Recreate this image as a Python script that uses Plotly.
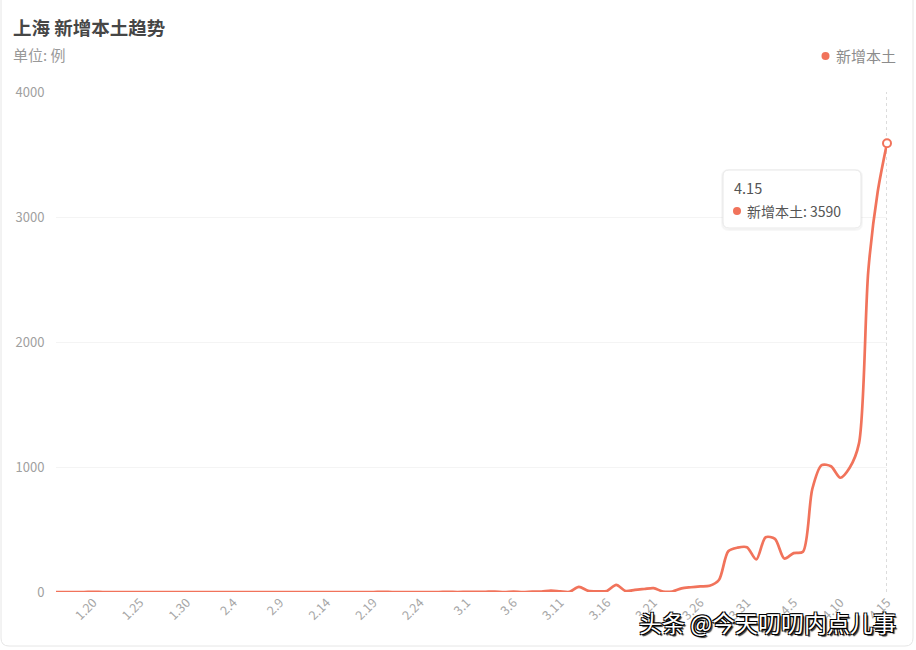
import plotly.graph_objects as go

# ---------------- data ----------------
dates_jan = ["1.16", "1.17", "1.18", "1.19", "1.20", "1.21", "1.22", "1.23", "1.24", "1.25",
             "1.26", "1.27", "1.28", "1.29", "1.30", "1.31"]
dates_feb = ["2.1", "2.2", "2.3", "2.4", "2.5", "2.6", "2.7", "2.8", "2.9", "2.10",
             "2.11", "2.12", "2.13", "2.14", "2.15", "2.16", "2.17", "2.18", "2.19", "2.20",
             "2.21", "2.22", "2.23", "2.24", "2.25", "2.26", "2.27", "2.28"]
dates_mar = ["3.1", "3.2", "3.3", "3.4", "3.5", "3.6", "3.7", "3.8", "3.9", "3.10",
             "3.11", "3.12", "3.13", "3.14", "3.15", "3.16", "3.17", "3.18", "3.19", "3.20",
             "3.21", "3.22", "3.23", "3.24", "3.25", "3.26", "3.27", "3.28", "3.29", "3.30", "3.31"]
dates_apr = ["4.1", "4.2", "4.3", "4.4", "4.5", "4.6", "4.7", "4.8", "4.9", "4.10",
             "4.11", "4.12", "4.13", "4.14", "4.15"]

vals_jan = [0, 0, 0, 0, 1, 0, 0, 0, 0, 0, 0, 0, 0, 0, 0, 0]
vals_feb = [0, 0, 0, 0, 0, 0, 0, 0, 0, 0, 0, 0, 0, 0, 0, 0, 0, 0, 0, 1,
            0, 0, 0, 0, 0, 0, 1, 0]
vals_mar = [1, 1, 2, 3, 0, 3, 0, 3, 4, 11, 5, 1, 41, 9, 5, 8, 57, 8, 17, 24,
            31, 4, 4, 29, 38, 45, 50, 96, 326, 355, 358]
vals_apr = [260, 438, 425, 268, 311, 322, 824, 1015, 1006, 914, 994, 1189, 2573, 3200, 3590]

categories = dates_jan + dates_feb + dates_mar + dates_apr
values = vals_jan + vals_feb + vals_mar + vals_apr

tick_labels = ["1.20", "1.25", "1.30", "2.4", "2.9", "2.14", "2.19", "2.24", "3.1", "3.6",
               "3.11", "3.16", "3.21", "3.26", "3.31", "4.5", "4.10", "4.15"]
y_ticks = [0, 1000, 2000, 3000, 4000]

series_name = "新增本土"
line_color = "#F1735B"
font_cjk = "Noto Sans CJK SC, Microsoft YaHei, sans-serif"

# category positions (index on the category axis)
x_pos = list(range(len(categories)))
tick_pos = [categories.index(t) for t in tick_labels]

# ---------------- layout geometry (pixels) ----------------
W, H = 916, 650
L, R, T, B = 56, 887, 92, 592


def px(x):
    return (x - L) / (R - L)


def py(y):
    return (B - y) / (B - T)


fig = go.Figure()
fig.add_trace(go.Scatter(
    x=x_pos, y=values, mode="lines", name=series_name,
    customdata=categories,
    line=dict(color=line_color, width=2.7, shape="spline", smoothing=0.8),
    hoverinfo="skip", cliponaxis=False, showlegend=False,
))
last_i = len(categories) - 1
last_cat = categories[last_i]
last_val = values[last_i]
fig.add_trace(go.Scatter(
    x=[last_i], y=[last_val], mode="markers",
    marker=dict(size=8, color="white", line=dict(color=line_color, width=2)),
    cliponaxis=False, showlegend=False, hoverinfo="skip",
))

shapes = []
# card border
r = 8
shapes.append(dict(
    type="path", xref="paper", yref="paper",
    path=(f"M {px(-10)} {py(-10)} L {px(913)} {py(-10)} L {px(913)} {py(646 - r)} "
          f"Q {px(913)} {py(646)} {px(913 - r)} {py(646)} L {px(1 + r)} {py(646)} "
          f"Q {px(1)} {py(646)} {px(1)} {py(646 - r)} L {px(1)} {py(-10)}"),
    line=dict(color="#e6e6e6", width=1), fillcolor="rgba(0,0,0,0)", layer="below",
))
# axis pointer
shapes.append(dict(
    type="line", xref="x", yref="paper", x0=last_i, x1=last_i, y0=0, y1=1,
    line=dict(color="#b8b8b8", width=1, dash="dot"), layer="below",
))


def rounded(xa, ya, xb, yb, rr):
    return (f"M {px(xa + rr)} {py(ya)} L {px(xb - rr)} {py(ya)} Q {px(xb)} {py(ya)} {px(xb)} {py(ya + rr)} "
            f"L {px(xb)} {py(yb - rr)} Q {px(xb)} {py(yb)} {px(xb - rr)} {py(yb)} "
            f"L {px(xa + rr)} {py(yb)} Q {px(xa)} {py(yb)} {px(xa)} {py(yb - rr)} "
            f"L {px(xa)} {py(ya + rr)} Q {px(xa)} {py(ya)} {px(xa + rr)} {py(ya)} Z")


shapes.append(dict(type="path", xref="paper", yref="paper", path=rounded(722, 170, 862, 230, 7),
                   line=dict(color="rgba(0,0,0,0.03)", width=2), fillcolor="rgba(0,0,0,0.02)"))
shapes.append(dict(type="path", xref="paper", yref="paper", path=rounded(723, 170, 861, 228, 6),
                   line=dict(color="#e8e8e8", width=1), fillcolor="white"))
shapes.append(dict(type="circle", xref="paper", yref="paper",
                   x0=px(733), x1=px(741), y0=py(215), y1=py(207),
                   fillcolor=line_color, line=dict(width=0)))
shapes.append(dict(type="circle", xref="paper", yref="paper",
                   x0=px(821.5), x1=px(829.5), y0=py(60), y1=py(52),
                   fillcolor=line_color, line=dict(width=0)))

annotations = [
    dict(text="<b>上海 新增本土趋势</b>", x=px(11), y=py(27), xref="paper", yref="paper",
         xanchor="left", yanchor="middle", showarrow=False,
         font=dict(family=font_cjk, size=18.5, color="#464646")),
    dict(text="单位: 例", x=px(11), y=py(55), xref="paper", yref="paper",
         xanchor="left", yanchor="middle", showarrow=False,
         font=dict(family=font_cjk, size=15, color="#999999")),
    dict(text=series_name, x=px(834), y=py(56), xref="paper", yref="paper",
         xanchor="left", yanchor="middle", showarrow=False,
         font=dict(family=font_cjk, size=15, color="#8c8c8c")),
    dict(text=last_cat, x=px(732), y=py(188), xref="paper", yref="paper",
         xanchor="left", yanchor="middle", showarrow=False,
         font=dict(family=font_cjk, size=14.5, color="#555555")),
    dict(text=f"{series_name}: {last_val}", x=px(745), y=py(211), xref="paper", yref="paper",
         xanchor="left", yanchor="middle", showarrow=False,
         font=dict(family=font_cjk, size=14, color="#555555")),
    dict(text="头条 @今天叨叨内点儿事", x=px(898), y=py(622), xref="paper", yref="paper",
         xanchor="right", yanchor="middle", showarrow=False,
         font=dict(family=font_cjk, size=23, color="white",
                   shadow="1px 1px 0 #000, -1px -1px 0 #000, 1px -1px 0 #000, -1px 1px 0 #000, 2px 2px 1px #333")),
]

fig.update_layout(
    width=W, height=H,
    margin=dict(l=L, r=W - R, t=T, b=H - B),
    paper_bgcolor="white", plot_bgcolor="white",
    showlegend=False,
    shapes=shapes, annotations=annotations,
    xaxis=dict(
        range=[0, last_i],
        tickmode="array", tickvals=tick_pos, ticktext=tick_labels,
        tickangle=-45, tickfont=dict(family=font_cjk, size=12.5, color="#a6a6a6"),
        showgrid=False, zeroline=False, showline=False,
        ticks="", fixedrange=True,
    ),
    yaxis=dict(
        range=[0, 4000], tickmode="array", tickvals=y_ticks,
        tickfont=dict(family=font_cjk, size=13, color="#a0a0a0"),
        showgrid=True, gridcolor="#f4f4f4", gridwidth=1,
        zeroline=False, showline=False,
        ticks="outside", ticklen=8, tickcolor="rgba(0,0,0,0)",
        fixedrange=True,
    ),
)

fig.write_html("out.html", config={"displayModeBar": False},
               post_script="document.body.style.margin='0';document.body.style.overflow='hidden';")
